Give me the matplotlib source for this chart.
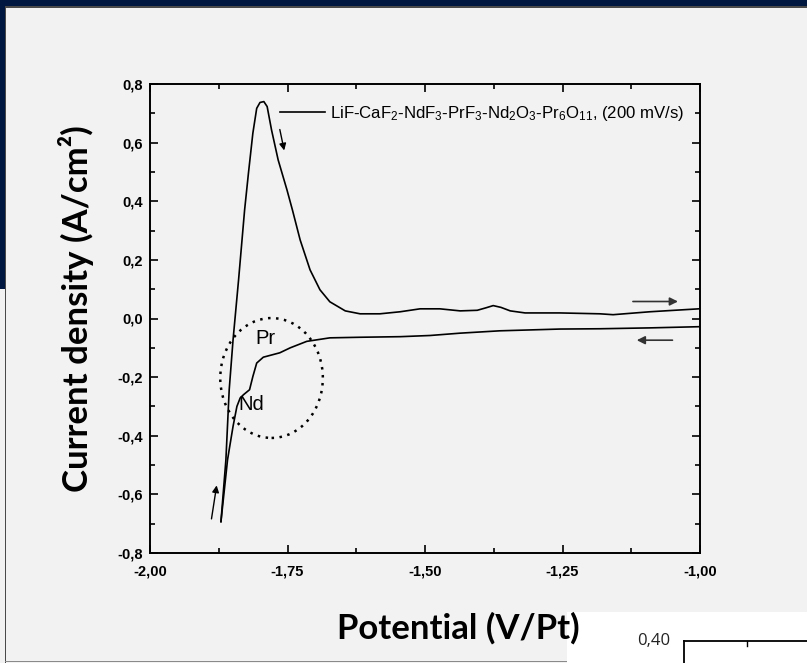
import matplotlib
matplotlib.use('Agg')
import matplotlib.pyplot as plt
from matplotlib.patches import Rectangle, Ellipse
from matplotlib.ticker import MultipleLocator, FuncFormatter

W, H = 807, 663

# anodic sweep (upper branch, with the big peak)
fwd_v = [-1.871, -1.862, -1.856, -1.849, -1.839, -1.828, -1.821, -1.813, -1.806,
         -1.800, -1.793, -1.787, -1.779, -1.767, -1.751, -1.741, -1.727, -1.709,
         -1.691, -1.673, -1.645, -1.618, -1.582, -1.545, -1.509, -1.473, -1.436,
         -1.405, -1.390, -1.376, -1.362, -1.345, -1.318, -1.255, -1.182, -1.158,
         -1.091, -1.002]
fwd_j = [-0.693, -0.482, -0.243, -0.073, 0.131, 0.370, 0.496, 0.632, 0.717,
         0.737, 0.740, 0.723, 0.643, 0.541, 0.439, 0.370, 0.268, 0.166,
         0.098, 0.057, 0.026, 0.016, 0.016, 0.023, 0.033, 0.033, 0.026,
         0.028, 0.036, 0.044, 0.038, 0.026, 0.019, 0.019, 0.016, 0.013,
         0.023, 0.033]

# cathodic sweep (lower branch, Pr / Nd shoulders)
rev_v = [-1.002, -1.091, -1.182, -1.255, -1.364, -1.436, -1.491, -1.545, -1.618,
         -1.673, -1.715, -1.745, -1.764, -1.794, -1.806, -1.813, -1.819, -1.830,
         -1.836, -1.842, -1.849, -1.855, -1.859, -1.871]
rev_j = [-0.028, -0.032, -0.035, -0.036, -0.042, -0.050, -0.058, -0.062, -0.064,
         -0.066, -0.078, -0.100, -0.117, -0.132, -0.152, -0.198, -0.243, -0.260,
         -0.271, -0.300, -0.368, -0.436, -0.482, -0.693]

legend_label = ('LiF-CaF$_2$-NdF$_3$-PrF$_3$-Nd$_2$O$_3$-Pr$_6$O$_{11}$, '
                '(200 mV/s)')

NAVY = '#00173f'
BG = '#f2f2f2'

plt.rcParams['mathtext.default'] = 'regular'
plt.rcParams['font.family'] = ['Liberation Sans Narrow', 'Liberation Sans', 'DejaVu Sans']

fig = plt.figure(figsize=(W / 100, H / 100), dpi=100, facecolor=BG)


def fx(px):
    return px / W


def fy(py):
    return 1 - py / H


# slide frame bits
fig.add_artist(Rectangle((0, fy(6)), 1, 6 / H, transform=fig.transFigure,
                         color=NAVY, lw=0))
fig.add_artist(Rectangle((0, fy(7.5)), 1, 1.5 / H, transform=fig.transFigure,
                         color='#4a4a4a', lw=0))
fig.add_artist(Rectangle((0, fy(289)), fx(4.5), 289 / H, transform=fig.transFigure,
                         color=NAVY, lw=0))
fig.add_artist(Rectangle((fx(4.5), 0), fx(1.8), fy(6), transform=fig.transFigure,
                         color='#4a4a4a', lw=0))
fig.add_artist(Rectangle((fx(4.5), fy(662)), fx(567 - 4.5), 1.5 / H,
                         transform=fig.transFigure, color='#8a8a8a', lw=0))
fig.add_artist(Rectangle((fx(567), 0), 1 - fx(567), fy(612), transform=fig.transFigure,
                         color='white', lw=0))
# corner of the next chart peeking in
fig.add_artist(plt.Line2D([fx(684), 1], [fy(641), fy(641)], transform=fig.transFigure,
                          color='black', lw=1.3))
fig.add_artist(plt.Line2D([fx(684), fx(684)], [fy(641), 0], transform=fig.transFigure,
                          color='black', lw=1.3))
fig.add_artist(plt.Line2D([fx(747), fx(747)], [fy(641), fy(646)], transform=fig.transFigure,
                          color='black', lw=1))
fig.text(fx(670), fy(641), '0,40', ha='right', va='center', fontsize=12,
         family=['Open Sans', 'DejaVu Sans'], color='#222222')

ax = fig.add_axes([fx(150), fy(553), fx(550), (553 - 84) / H])
ax.set_facecolor(BG)

ax.plot(fwd_v, fwd_j, color='black', lw=1.2, label=legend_label)
ax.plot(rev_v, rev_j, color='black', lw=1.2)

ax.set_xlim(-2.0, -1.0)
ax.set_ylim(-0.8, 0.8)
ax.xaxis.set_major_locator(MultipleLocator(0.25))
ax.xaxis.set_minor_locator(MultipleLocator(0.125))
ax.yaxis.set_major_locator(MultipleLocator(0.2))
ax.yaxis.set_minor_locator(MultipleLocator(0.1))
ax.xaxis.set_major_formatter(FuncFormatter(lambda v, p: f'{v:.2f}'.replace('.', ',')))
ax.yaxis.set_major_formatter(
    FuncFormatter(lambda v, p: ('0,0' if abs(v) < 1e-9 else f'{v:.1f}'.replace('.', ','))))
ax.tick_params(which='both', direction='in', top=True, right=True, width=1.2)
ax.tick_params(which='major', length=6, pad=5)
ax.tick_params(axis='x', which='major', pad=8)
ax.tick_params(which='minor', length=3.5)
for lab in ax.get_xticklabels() + ax.get_yticklabels():
    lab.set_fontweight('bold')
    lab.set_fontsize(10.5)
for s in ax.spines.values():
    s.set_linewidth(1.4)

ax.legend(loc='center left', bbox_to_anchor=(0.236, 0.938), frameon=False,
          handlelength=2.7, handletextpad=0.3, borderpad=0, borderaxespad=0,
          fontsize=12.1)

# sweep direction arrows
arr = dict(arrowstyle='-|>', color='black', lw=1.0, mutation_scale=10)
ax.annotate('', xy=(-1.755, 0.564), xytext=(-1.765, 0.654), arrowprops=arr)
ax.annotate('', xy=(-1.878, -0.560), xytext=(-1.889, -0.693), arrowprops=arr)
arr_g = dict(arrowstyle='-|>', color='#333333', lw=1.2, mutation_scale=12)
ax.annotate('', xy=(-1.035, 0.058), xytext=(-1.127, 0.058), arrowprops=arr_g)
ax.annotate('', xy=(-1.120, -0.074), xytext=(-1.045, -0.074), arrowprops=arr_g)

ax.add_patch(Ellipse((-1.779, -0.203), 0.1865, 0.409, fill=False, color='black',
                     lw=1.8, linestyle=(0, (1, 2.2))))
ax.text(-1.790, -0.068, 'Pr', ha='center', va='center', fontsize=14.5)
ax.text(-1.815, -0.294, 'Nd', ha='center', va='center', fontsize=14.5)

fig.text(fx(76), fy(309), 'Current density (A/cm²)', rotation=90, ha='center',
         va='center', fontsize=25, fontweight='bold', family=['Lato', 'DejaVu Sans'])
fig.text(fx(458), fy(628), 'Potential (V/Pt)', ha='center', va='center',
         fontsize=25, fontweight='bold', family=['Lato', 'DejaVu Sans'])

fig.savefig('out.png', dpi=100, facecolor=BG)
